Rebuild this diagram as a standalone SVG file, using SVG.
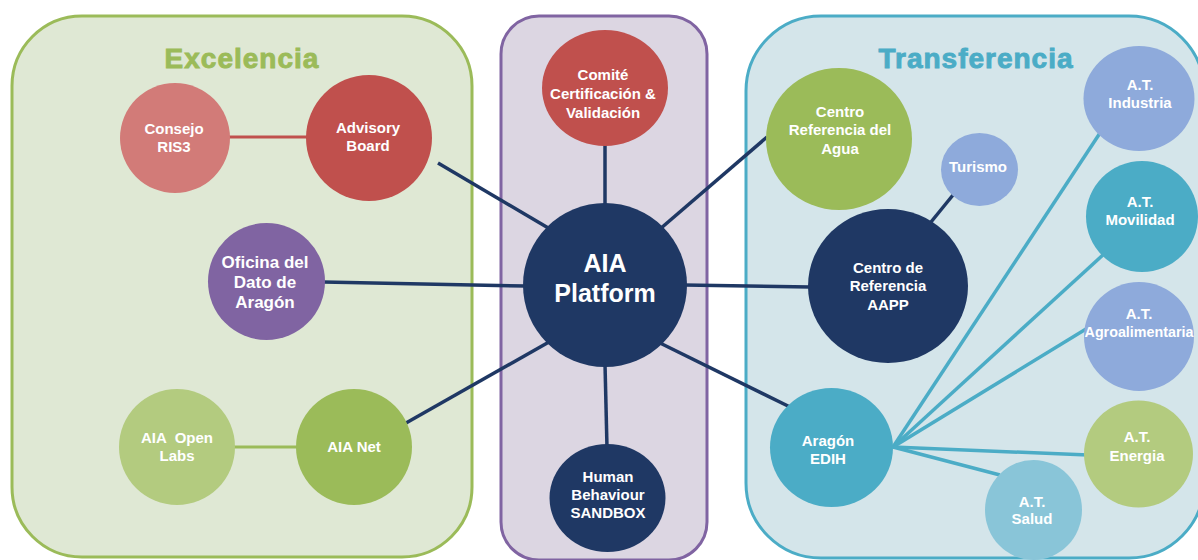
<svg xmlns="http://www.w3.org/2000/svg" width="1198" height="560" viewBox="0 0 1198 560">
<style>
text{font-family:"Liberation Sans",Arial,sans-serif;font-weight:bold;fill:#ffffff;text-anchor:middle}
.t15{font-size:15px}
.t17{font-size:17px}
.title{font-size:28px;letter-spacing:1px;stroke-width:0.9}
.navy{stroke:#1f3864;stroke-width:3.5;fill:none}
.teal{stroke:#4bacc6;stroke-width:3.5;fill:none}
.red{stroke:#c0504d;stroke-width:3;fill:none}
.green{stroke:#9bbb59;stroke-width:3;fill:none}
</style>
<rect width="1198" height="560" fill="#ffffff"/>
<g id="panels">
<rect id="panel-excelencia" x="12" y="16" width="460" height="541" rx="70" fill="#dfe8d4" stroke="#9bbb59" stroke-width="3"/>
<rect id="panel-center" x="501" y="16" width="206" height="544" rx="38" fill="#dcd6e2" stroke="#8064a2" stroke-width="3"/>
<rect id="panel-transferencia" x="746" y="16" width="458" height="542" rx="75" fill="#d4e5ea" stroke="#4bacc6" stroke-width="3"/>
<text class="title" x="242" y="68" style="fill:#9bbb59;stroke:#9bbb59">Excelencia</text>
<text class="title" x="976" y="68" style="fill:#4bacc6;stroke:#4bacc6">Transferencia</text>
</g>
<g id="connectors">
<line class="red" x1="228" y1="137" x2="308" y2="137"/>
<line class="green" x1="233" y1="447" x2="298" y2="447"/>
<line class="navy" x1="438" y1="163" x2="550" y2="229"/>
<line class="navy" x1="323" y1="282" x2="526" y2="286"/>
<line class="navy" x1="406" y1="423" x2="549" y2="342"/>
<line class="navy" x1="605" y1="144" x2="605" y2="206"/>
<line class="navy" x1="605" y1="364" x2="607" y2="448"/>
<line class="navy" x1="660" y1="229" x2="767" y2="137"/>
<line class="navy" x1="684" y1="285" x2="810" y2="287"/>
<line class="navy" x1="660" y1="343" x2="790" y2="407"/>
<line class="navy" x1="931" y1="222" x2="953" y2="195"/>
<line class="teal" x1="893" y1="447" x2="1100" y2="133"/>
<line class="teal" x1="893" y1="447" x2="1104" y2="254"/>
<line class="teal" x1="893" y1="447" x2="1086" y2="329"/>
<line class="teal" x1="893" y1="447" x2="1088" y2="455"/>
<line class="teal" x1="893" y1="447" x2="1000" y2="475"/>
</g>
<g id="node-consejo">
<circle cx="175" cy="138" r="55" fill="#d27b78"/>
<text class="t15" x="174" y="134">Consejo</text>
<text class="t15" x="174" y="152">RIS3</text>
</g>
<g id="node-advisory">
<circle cx="369" cy="138" r="63" fill="#c0504d"/>
<text class="t15" x="368" y="133">Advisory</text>
<text class="t15" x="368" y="151">Board</text>
</g>
<g id="node-oficina">
<circle cx="266.5" cy="281.5" r="58.5" fill="#8064a2"/>
<text class="t17" x="265" y="268">Oficina del</text>
<text class="t17" x="265" y="288">Dato de</text>
<text class="t17" x="265" y="308">Aragón</text>
</g>
<g id="node-openlabs">
<circle cx="177" cy="447" r="58" fill="#b3cb7f"/>
<text class="t15" x="177" y="443" xml:space="preserve">AIA  Open</text>
<text class="t15" x="177" y="461">Labs</text>
</g>
<g id="node-aianet">
<circle cx="354" cy="447" r="58" fill="#9bbb59"/>
<text class="t15" x="354" y="452">AIA Net</text>
</g>
<g id="node-comite">
<ellipse cx="605" cy="88" rx="63" ry="58" fill="#c0504d"/>
<text class="t15" x="603" y="80">Comité</text>
<text class="t15" x="603" y="99">Certificación &amp;</text>
<text class="t15" x="603" y="118">Validación</text>
</g>
<g id="node-platform">
<circle cx="605" cy="285" r="82" fill="#1f3864"/>
<text x="605" y="272" style="font-size:25px">AIA</text>
<text x="605" y="302" style="font-size:25px">Platform</text>
</g>
<g id="node-human">
<ellipse cx="607.5" cy="498" rx="58" ry="54" fill="#1f3864"/>
<text class="t15" x="608" y="482">Human</text>
<text class="t15" x="608" y="500">Behaviour</text>
<text class="t15" x="608" y="518">SANDBOX</text>
</g>
<g id="node-agua">
<ellipse cx="839" cy="139" rx="73" ry="71" fill="#9bbb59"/>
<text class="t15" x="840" y="117">Centro</text>
<text class="t15" x="840" y="135">Referencia del</text>
<text class="t15" x="840" y="154">Agua</text>
</g>
<g id="node-turismo">
<ellipse cx="979.5" cy="169.5" rx="38.5" ry="36.5" fill="#8eaadb"/>
<text class="t15" x="978" y="172">Turismo</text>
</g>
<g id="node-aapp">
<ellipse cx="888" cy="286" rx="80" ry="77" fill="#1f3864"/>
<text class="t15" x="888" y="273">Centro de</text>
<text class="t15" x="888" y="291">Referencia</text>
<text class="t15" x="888" y="310">AAPP</text>
</g>
<g id="node-industria">
<ellipse cx="1139" cy="98.5" rx="55.5" ry="52.5" fill="#8eaadb"/>
<text class="t15" x="1140" y="90">A.T.</text>
<text class="t15" x="1140" y="108">Industria</text>
</g>
<g id="node-movilidad">
<ellipse cx="1142" cy="216.5" rx="56" ry="55.5" fill="#4bacc6"/>
<text class="t15" x="1140" y="207">A.T.</text>
<text class="t15" x="1140" y="225">Movilidad</text>
</g>
<g id="node-agro">
<ellipse cx="1139" cy="336.5" rx="55" ry="54.5" fill="#8eaadb"/>
<text class="t15" x="1139" y="319">A.T.</text>
<text x="1139" y="337" style="font-size:14.3px">Agroalimentaria</text>
</g>
<g id="node-energia">
<ellipse cx="1138.5" cy="454" rx="54.5" ry="53.5" fill="#b3cb7f"/>
<text class="t15" x="1137" y="442">A.T.</text>
<text class="t15" x="1137" y="461">Energia</text>
</g>
<g id="node-salud">
<ellipse cx="1033.5" cy="510" rx="48.5" ry="50" fill="#89c5d8"/>
<text class="t15" x="1032" y="507">A.T.</text>
<text class="t15" x="1032" y="524">Salud</text>
</g>
<g id="node-edih">
<ellipse cx="831.5" cy="447.5" rx="61.5" ry="59.5" fill="#4bacc6"/>
<text class="t15" x="828" y="446">Aragón</text>
<text class="t15" x="828" y="464">EDIH</text>
</g>
</svg>
